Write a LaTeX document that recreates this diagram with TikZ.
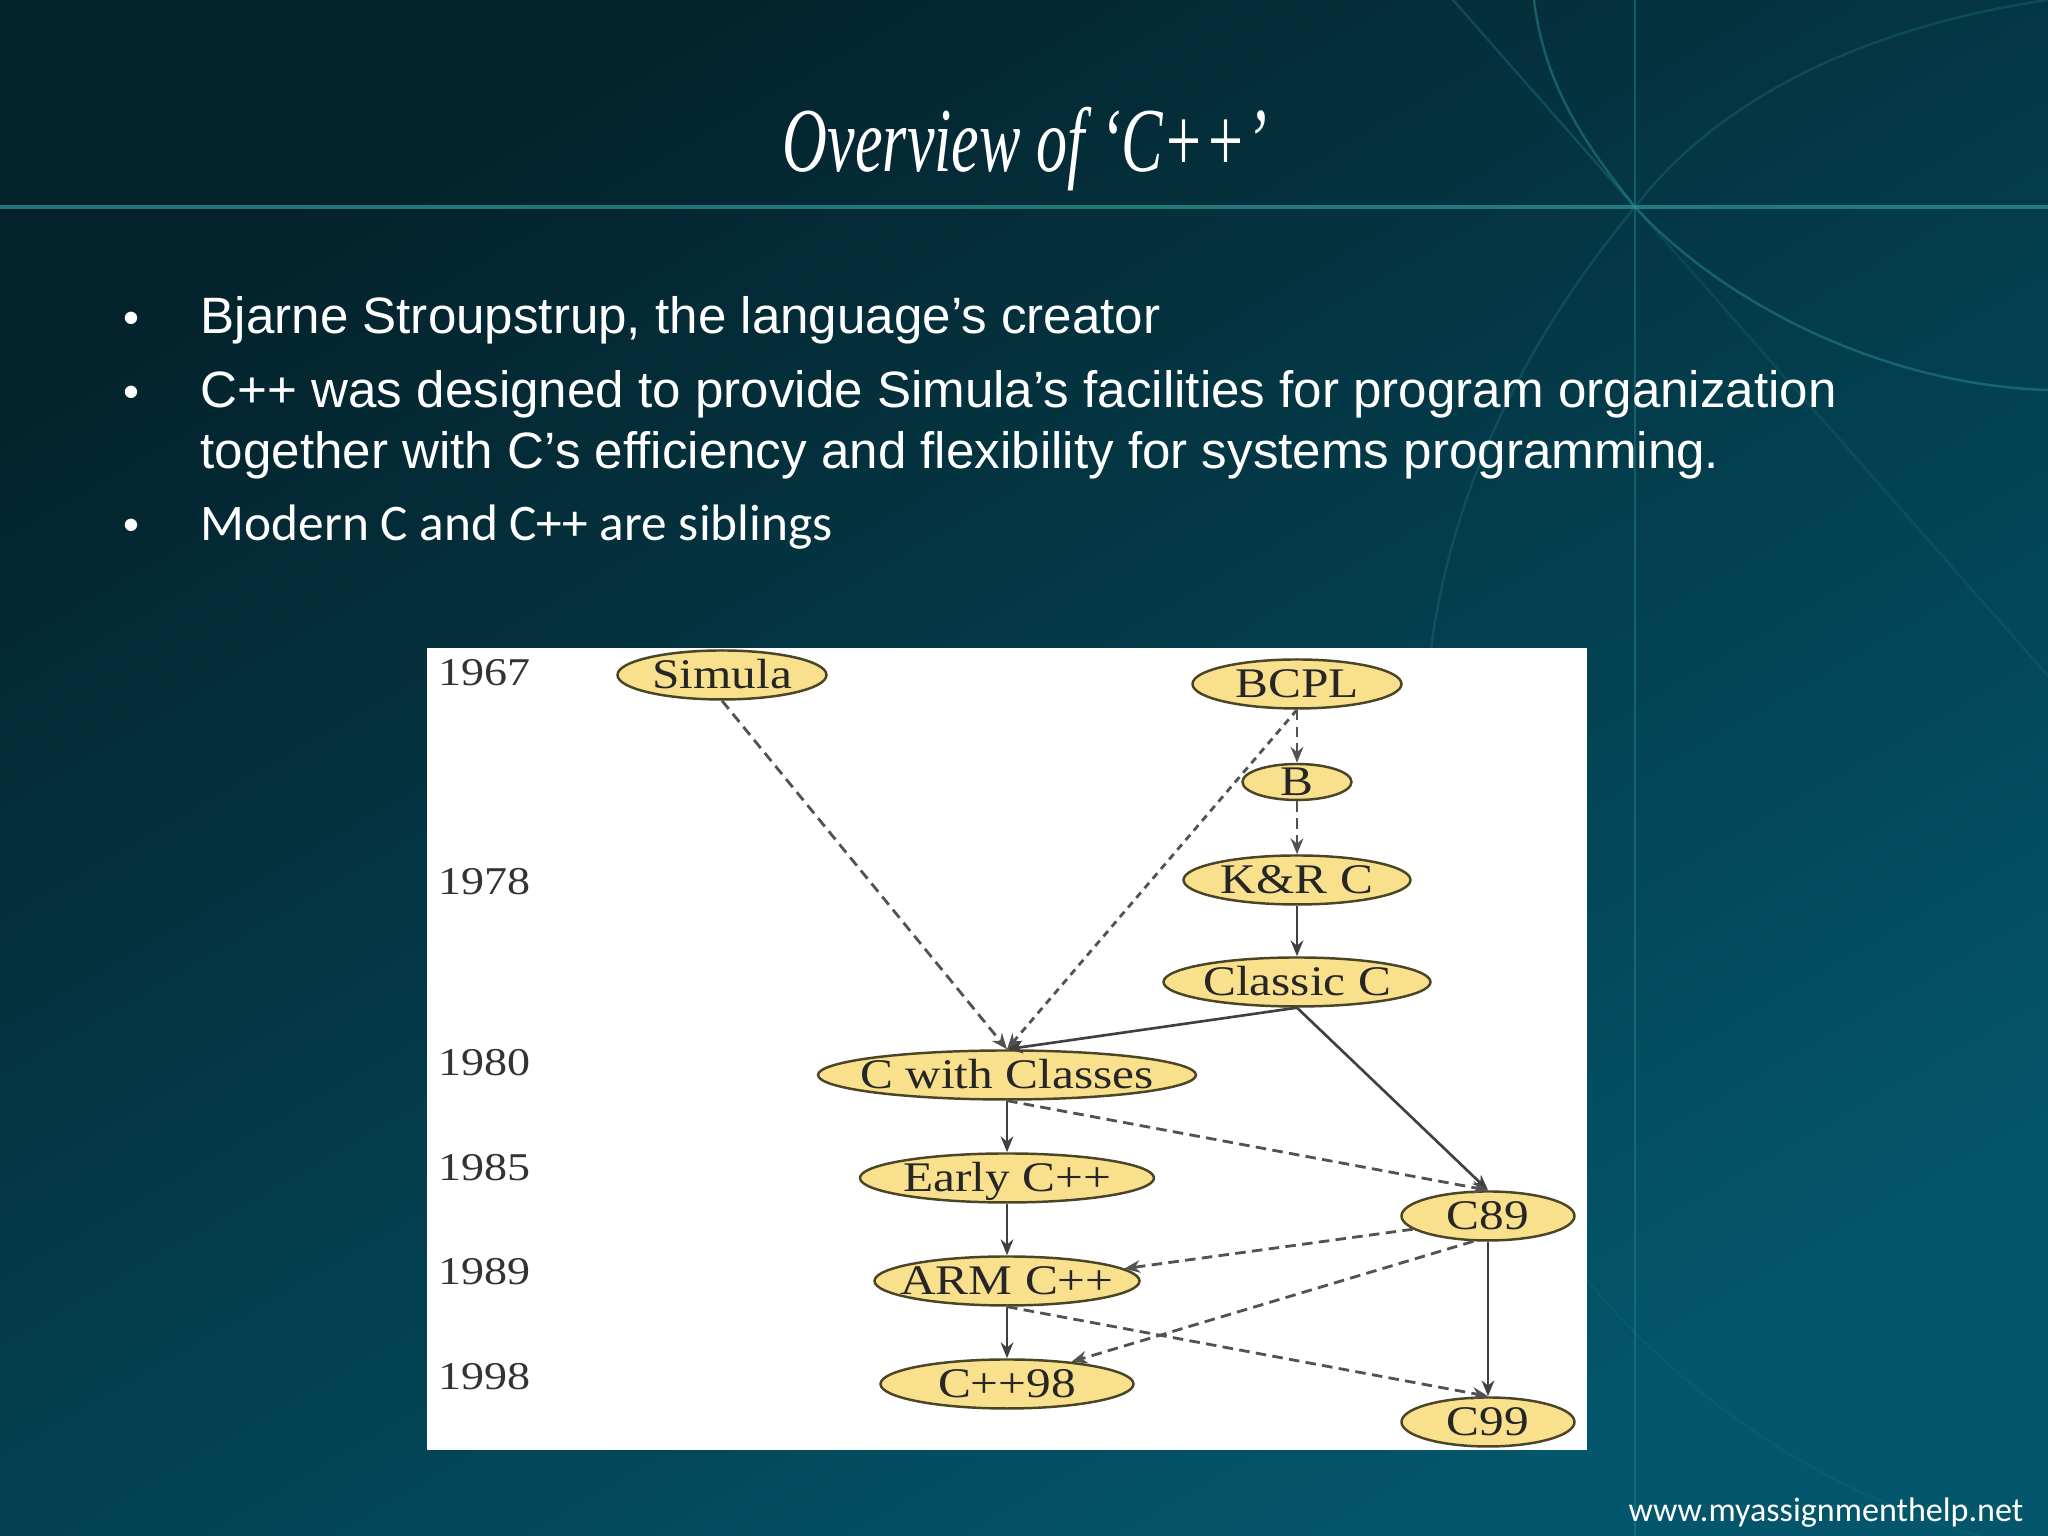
\documentclass[tikz,border=0pt]{standalone}
\usepackage{fontspec}
\setmainfont{Liberation Serif}
\newfontfamily\bodyfont{Liberation Sans}
\newfontfamily\calfont{Carlito}
\newfontfamily\titlefont[FakeStretch=0.68]{Liberation Serif}
\newfontfamily\chartfont[FakeStretch=1.17]{Liberation Serif}
\usetikzlibrary{arrows.meta,shapes,shapes.geometric}
\definecolor{bgdark}{HTML}{04222B}
\definecolor{bgmid}{HTML}{034352}
\definecolor{bglight}{HTML}{03566B}
\definecolor{ruleteal}{HTML}{2A8A8E}
\definecolor{langfill}{HTML}{F8E08C}
\definecolor{langline}{HTML}{4A4526}
\newcommand{\langtext}[1]{\smash{\makebox[0pt]{\raisebox{-0.32em}{#1}}}}
\tikzset{
	langnode/.style={ellipse,draw=langline,fill=langfill,line width=0.7pt,inner sep=0pt,text=black!85,font=\chartfont\fontsize{12}{12}\selectfont},
	yearlabel/.style={anchor=base west,inner sep=0pt,text=black!80,font=\chartfont\fontsize{11.2}{11.2}\selectfont},
	bullettext/.style={anchor=base west,inner sep=0pt,text=white,font=\bodyfont\fontsize{14.55}{14.55}\selectfont},
	bulletmark/.style={anchor=base,inner sep=0pt,text=white,font=\bodyfont\fontsize{13}{13}\selectfont},
	solidtip/.style={-{Stealth[length=4.5pt,width=3.6pt]},line width=0.75pt,draw=black!75},
	dashtip/.style={-{Stealth[length=4.5pt,width=3.6pt]},line width=0.8pt,draw=black!68,dash pattern=on 3pt off 1.8pt},
	deco/.style={line width=0.7pt,draw=ruleteal}
}
\begin{document}
\begin{tikzpicture}
			\useasboundingbox (0,0) rectangle (20.48,15.36);
			\shade[top color=bgdark,middle color=bgmid,bottom color=bglight,shading angle=30] (0,0) rectangle (20.48,15.36);
			\draw[deco,line width=0.9pt,opacity=0.8] (0,13.29) -- (20.48,13.29);
			\draw[deco,opacity=0.45] (16.35,15.36) -- (16.35,0);
			\draw[deco,opacity=0.3] (14.53,15.36) -- (16.35,13.29);
			\draw[deco,opacity=0.18] (16.35,13.29) -- (20.48,8.6);
			\draw[deco,opacity=0.5] (15.34,15.36) .. controls (15.45,14.46) and (15.90,13.86) .. (16.35,13.29) .. controls (17.20,12.36) and (18.80,11.51) .. (20.48,11.46);
			\draw[deco,opacity=0.25] (20.48,15.36) .. controls (18.70,15.10) and (17.20,14.40) .. (16.35,13.29) .. controls (15.20,11.90) and (14.50,10.40) .. (14.30,8.8);
			\draw[deco,opacity=0.12] (15.87,2.56) .. controls (16.50,1.80) and (17.80,0.55) .. (19.80,0);
			\node[anchor=base,inner sep=0pt,text=white,font=\titlefont\itshape\fontsize{26}{26}\selectfont] (title) at (10.25,13.64) {Overview of ‘C++’};
			\node[bulletmark] (dot1) at (1.31,12.02) {•};
			\node[bullettext] (line1) at (2.00,12.02) {Bjarne Stroupstrup, the language’s creator};
			\node[bulletmark] (dot2) at (1.31,11.285) {•};
			\node[bullettext] (line2) at (2.00,11.285) {C++ was designed to provide Simula’s facilities for program organization};
			\node[bullettext] (line3) at (2.00,10.67) {together with C’s efficiency and flexibility for systems programming.};
			\node[bulletmark] (dot3) at (1.31,9.95) {•};
			\node[bullettext,font=\calfont\fontsize{14.6}{14.6}\selectfont] (line4) at (2.00,9.95) {Modern C and C++ are siblings};
			\node[anchor=base west,inner sep=0pt,text=white,font=\calfont\fontsize{9.7}{9.7}\selectfont] (site) at (16.28,0.14) {www.myassignmenthelp.net};
			\fill[white] (4.27,0.86) rectangle (15.87,8.88);
			\node[yearlabel] (y67) at (4.375,8.50) {1967};
			\node[yearlabel] (y78) at (4.375,6.41) {1978};
			\node[yearlabel] (y80) at (4.375,4.60) {1980};
			\node[yearlabel] (y85) at (4.375,3.55) {1985};
			\node[yearlabel] (y89) at (4.375,2.51) {1989};
			\node[yearlabel] (y98) at (4.375,1.46) {1998};
			\node[langnode,minimum width=2.09cm,minimum height=0.49cm] (simula) at (7.22,8.61) {\langtext{Simula}};
			\node[langnode,minimum width=2.09cm,minimum height=0.49cm] (bcpl) at (12.97,8.52) {\langtext{BCPL}};
			\node[langnode,minimum width=1.09cm,minimum height=0.36cm] (b) at (12.97,7.54) {\langtext{B}};
			\node[langnode,minimum width=2.27cm,minimum height=0.49cm] (kr) at (12.97,6.56) {\langtext{K\&R C}};
			\node[langnode,minimum width=2.67cm,minimum height=0.49cm] (classic) at (12.97,5.54) {\langtext{Classic C}};
			\node[langnode,minimum width=3.78cm,minimum height=0.49cm] (cwc) at (10.07,4.61) {\langtext{C with Classes}};
			\node[langnode,minimum width=2.94cm,minimum height=0.49cm] (early) at (10.07,3.58) {\langtext{Early C++}};
			\node[langnode,minimum width=2.65cm,minimum height=0.49cm] (arm) at (10.07,2.55) {\langtext{ARM C++}};
			\node[langnode,minimum width=2.53cm,minimum height=0.49cm] (cpp98) at (10.07,1.52) {\langtext{C++98}};
			\node[langnode,minimum width=1.73cm,minimum height=0.49cm] (c89) at (14.88,3.20) {\langtext{C89}};
			\node[langnode,minimum width=1.73cm,minimum height=0.49cm] (c99) at (14.88,1.14) {\langtext{C99}};
			\draw[dashtip] (simula.south) -- (cwc.north);
			\draw[dashtip,dash pattern=on 2pt off 1.6pt] (bcpl.south) -- (cwc.north);
			\draw[dashtip] (bcpl.south) -- (b.north);
			\draw[dashtip] (b.south) -- (kr.north);
			\draw[solidtip] (kr.south) -- (classic.north);
			\draw[solidtip] (classic.south) -- (cwc.north);
			\draw[solidtip] (classic.south) -- (c89.north);
			\draw[solidtip] (cwc.south) -- (early.north);
			\draw[solidtip] (early.south) -- (arm.north);
			\draw[solidtip] (arm.south) -- (cpp98.north);
			\draw[solidtip] (c89.south) -- (c99.north);
			\draw[dashtip] (cwc.south) -- (c89.north);
			\draw[dashtip] (c89.190) -- (arm.6);
			\draw[dashtip] (c89.240) -- (cpp98.19);
			\draw[dashtip] (arm.south) -- (c99.north);
		\end{tikzpicture}
\end{document}
